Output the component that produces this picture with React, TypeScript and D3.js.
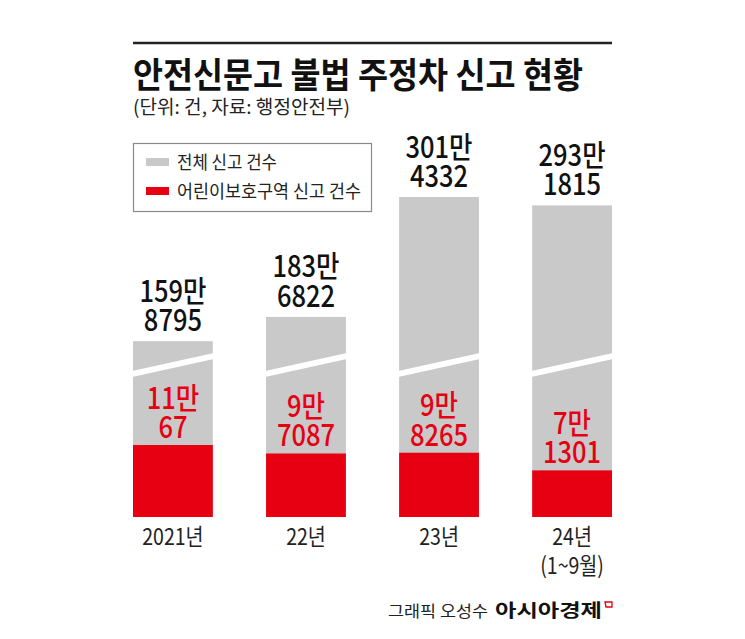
import React from "react";
import * as d3 from "d3";

const categories = ["2021년", "22년", "23년", "24년"];
const subCategories = ["", "", "", "(1~9월)"];
const totalValues = [1598795, 1836822, 3014332, 2931815];
const totalLine1 = ["159만", "183만", "301만", "293만"];
const totalLine2 = ["8795", "6822", "4332", "1815"];
const childValues = [110067, 97087, 98265, 71301];
const childLine1 = ["11만", "9만", "9만", "7만"];
const childLine2 = ["67", "7087", "8265", "1301"];
const legendLabels = ["전체 신고 건수", "어린이보호구역 신고 건수"];

const title = "안전신문고 불법 주정차 신고 현황";
const subtitle = "(단위: 건, 자료: 행정안전부)";
const creditLight = "그래픽 오성수";
const creditBold = "아시아경제";

const W = 745;
const H = 639;
const FONT = "'Noto Sans CJK KR', 'Noto Sans', sans-serif";
const GRAY = "#c9c9c9";
const RED = "#e60012";
const BASE = 517;

function CText({ x, y, sx = 0.85, anchor = "middle", size, weight = 400, fill = "#111", children }: any) {
  return (
    <g transform={`translate(${x},${y}) scale(${sx},1)`}>
      <text x={0} y={0} textAnchor={anchor} fontSize={size} fontWeight={weight} fill={fill} fontFamily={FONT}>
        {children}
      </text>
    </g>
  );
}

export default function App() {
  const x = d3.scaleBand<string>().domain(categories).range([133, 612]).paddingInner(0.4).paddingOuter(0);
  const yTotal = d3.scaleLinear().domain([0, d3.max(totalValues)!]).range([504, 197]);
  const yChild = d3.scaleLinear().domain([0, d3.max(childValues)!]).range([BASE, 445]);
  const bw = x.bandwidth();

  return (
    <svg width={W} height={H} style={{ position: "absolute", left: 0, top: 0, background: "#fff" }}>
      <rect x={0} y={0} width={W} height={H} fill="#fff" />
      <line x1={133} x2={612} y1={43} y2={43} stroke="#222" strokeWidth={2.5} />
      <text x={133} y={88} fontSize={35} fontWeight={700} fill="#111" fontFamily={FONT} textLength={450} lengthAdjust="spacingAndGlyphs">
        {title}
      </text>
      <text x={133} y={114} fontSize={19} fill="#222" fontFamily={FONT} textLength={217} lengthAdjust="spacingAndGlyphs">
        {subtitle}
      </text>

      {/* legend */}
      <rect x={133.5} y={143.5} width={238} height={68} fill="#fff" stroke="#8a8a8a" strokeWidth={1.2} />
      <rect x={146} y={158} width={23} height={8} fill={GRAY} />
      <rect x={146} y={187} width={23} height={8} fill={RED} />
      <text x={177} y={169} fontSize={18} fill="#222" fontFamily={FONT} textLength={100} lengthAdjust="spacingAndGlyphs">
        {legendLabels[0]}
      </text>
      <text x={177} y={198} fontSize={18} fill="#222" fontFamily={FONT} textLength={184} lengthAdjust="spacingAndGlyphs">
        {legendLabels[1]}
      </text>

      {categories.map((c, i) => {
        const x0 = x(c)!;
        const cx = x0 + bw / 2;
        const tTop = yTotal(totalValues[i]);
        const rTop = yChild(childValues[i]);
        return (
          <g key={c}>
            <rect x={x0} y={tTop} width={bw} height={BASE - tTop} fill={GRAY} />
            <rect x={x0} y={rTop} width={bw} height={BASE - rTop} fill={RED} />
            <polygon
              points={`${x0 - 1},371 ${x0 + bw + 1},353 ${x0 + bw + 1},359 ${x0 - 1},377`}
              fill="#fff"
            />
            <CText x={cx} y={tTop - 10} size={30} weight={500}>{totalLine2[i]}</CText>
            <CText x={cx} y={tTop - 39.5} size={30} weight={500}>{totalLine1[i]}</CText>
            <CText x={cx} y={rTop - 7} size={30} weight={500} fill={RED}>{childLine2[i]}</CText>
            <CText x={cx} y={rTop - 36.5} size={30} weight={500} fill={RED}>{childLine1[i]}</CText>
            <CText x={cx} y={545} size={23} fill="#222">{c}</CText>
            {subCategories[i] && (
              <CText x={cx} y={574} size={23} fill="#222">{subCategories[i]}</CText>
            )}
          </g>
        );
      })}

      {/* credit */}
      <text x={388} y={617} fontSize={16} fill="#222" fontFamily={FONT} textLength={100} lengthAdjust="spacingAndGlyphs">
        {creditLight}
      </text>
      <text x={495} y={617} fontSize={18} fontWeight={700} fill="#111" fontFamily={FONT} textLength={107} lengthAdjust="spacingAndGlyphs">
        {creditBold}
      </text>
      <path d="M605,602 L612,602 L612,607 L606,607 Z" fill="none" stroke={RED} strokeWidth={1.3} />
    </svg>
  );
}
